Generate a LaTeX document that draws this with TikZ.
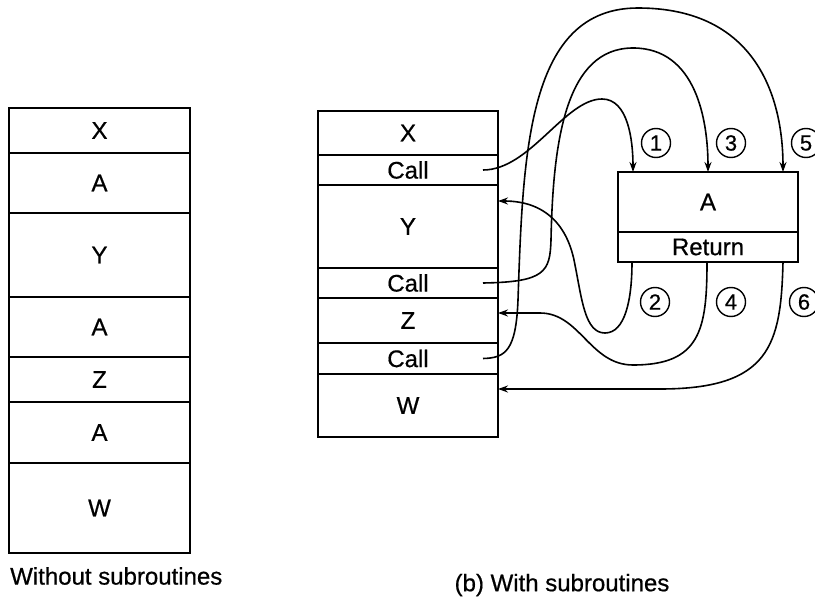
\documentclass[tikz,border=0pt]{standalone}
\usepackage{fontspec}
\setmainfont[FakeBold=0.6]{Liberation Sans}
\usetikzlibrary{arrows.meta,calc}
\begin{document}
\begin{tikzpicture}[x=1pt,y=-1pt,
  line width=1.8pt,
  cell/.style={draw, rectangle, anchor=north west, inner sep=0pt, outer sep=0pt,
    font=\fontsize{24}{27}\selectfont},
  num/.style={draw, circle, line width=1.4pt, minimum size=29pt, inner sep=0pt,
    font=\fontsize{22}{25}\selectfont},
  flow/.style={line width=1.6pt, -{Stealth[length=10pt,width=7pt]}},
  captext/.style={font=\fontsize{24}{27}\selectfont}]
\clip (0,0) rectangle (815,605);
\fill[white] (0,0) rectangle (815,605);
% left stack (without subroutines)
\node[cell, minimum width=181pt, minimum height=45pt] (lX) at (9,108) {X};
\node[cell, minimum width=181pt, minimum height=60pt] (lA1) at (9,153) {A};
\node[cell, minimum width=181pt, minimum height=84pt] (lY) at (9,213) {Y};
\node[cell, minimum width=181pt, minimum height=60pt] (lA2) at (9,297) {A};
\node[cell, minimum width=181pt, minimum height=45pt] (lZ) at (9,357) {Z};
\node[cell, minimum width=181pt, minimum height=61pt] (lA3) at (9,402) {A};
\node[cell, minimum width=181pt, minimum height=90pt] (lW) at (9,463) {W};
\node[captext, anchor=west] (capa) at (6,576) {Without subroutines};
% right stack (with subroutines)
\node[cell, minimum width=180pt, minimum height=44pt] (rX) at (318,111) {X};
\node[cell, minimum width=180pt, minimum height=30pt] (c1) at (318,155) {Call};
\node[cell, minimum width=180pt, minimum height=83pt] (rY) at (318,185) {Y};
\node[cell, minimum width=180pt, minimum height=30pt] (c2) at (318,268) {Call};
\node[cell, minimum width=180pt, minimum height=45pt] (rZ) at (318,298) {Z};
\node[cell, minimum width=180pt, minimum height=31pt] (c3) at (318,343) {Call};
\node[cell, minimum width=180pt, minimum height=63pt] (rW) at (318,374) {W};
\node[captext] (capb) at (562,585) {(b) With subroutines};
% subroutine A
\node[cell, minimum width=180pt, minimum height=60pt] (sA) at (618,172) {A};
\node[cell, minimum width=180pt, minimum height=30pt] (ret) at (618,232) {Return};
% connector end points
\coordinate (s1) at ($(c1.east)+(-15,0)$);
\coordinate (s2) at ($(c2.east)+(-15,0)$);
\coordinate (s3) at ($(c3.east)+(-15,0)$);
\coordinate (t1) at ($(sA.north west)+(15,0)$);
\coordinate (t3) at ($(sA.north west)+(90,0)$);
\coordinate (t5) at ($(sA.north west)+(165,0)$);
\coordinate (r2) at ($(ret.south west)+(14,0)$);
\coordinate (r4) at ($(ret.south west)+(89,0)$);
\coordinate (r6) at ($(ret.south west)+(165,0)$);
\coordinate (e2) at ($(rY.north east)+(0,16)$);
\coordinate (e4) at ($(rZ.north east)+(0,15)$);
\coordinate (e6) at ($(rW.north east)+(0,15)$);
% calls
\draw[flow] (s1) .. controls (530,170) and (565,99) .. (602,99)
  .. controls (628,99) and (633,140) .. (t1);
\draw[flow] (s2) .. controls (545,282) and (550,272) .. (551,240)
  .. controls (553,140) and (566,48) .. (633,48)
  .. controls (696,48) and (708,120) .. (t3);
\draw[flow] (s3) .. controls (506,358) and (516,350) .. (518,300)
  .. controls (523,150) and (528,8) .. (638,8)
  .. controls (758,8) and (783,100) .. (t5);
% returns
\draw[flow] (r2) .. controls (632,300) and (625,333) .. (605,333)
  .. controls (585,333) and (582,300) .. (575,265)
  .. controls (568,225) and (545,201) .. (e2);
\draw[flow] (r4) .. controls (707,330) and (700,365) .. (633,365)
  .. controls (590,365) and (580,313) .. (540,313) -- (e4);
\draw[flow] (r6) .. controls (781,345) and (770,389) .. (660,389) -- (e6);
% step numbers
\node[num] (n1) at (656,143) {1};
\node[num] (n3) at (731,143) {3};
\node[num] (n5) at (806,143) {5};
\node[num] (n2) at (655,302) {2};
\node[num] (n4) at (731,302) {4};
\node[num] (n6) at (804,302) {6};
\end{tikzpicture}
\end{document}
